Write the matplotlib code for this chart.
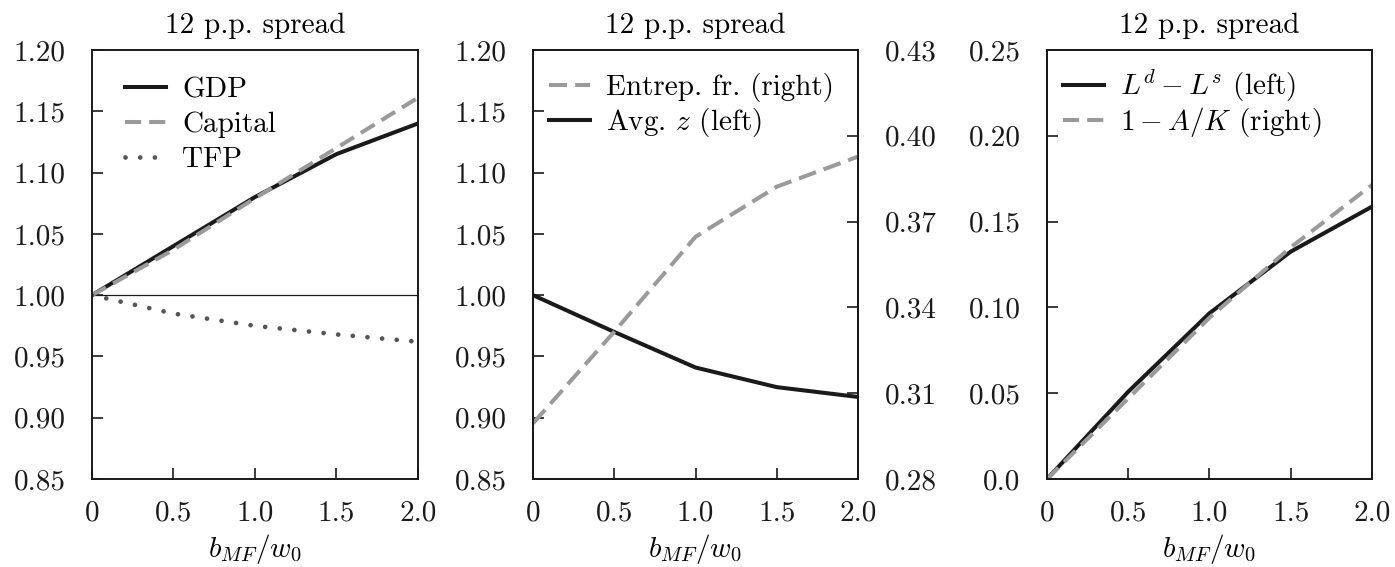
import matplotlib
matplotlib.use("Agg")
import matplotlib.pyplot as plt
from matplotlib.ticker import FixedLocator, FixedFormatter

plt.rcParams['font.family'] = 'serif'
plt.rcParams['font.serif'] = ['cmr10', 'DejaVu Serif']
plt.rcParams['mathtext.fontset'] = 'cm'
plt.rcParams['axes.formatter.use_mathtext'] = True

# ---- data ----
x = [0.0, 0.5, 1.0, 1.5, 2.0]
gdp = [1.000, 1.040, 1.080, 1.115, 1.140]
capital = [1.000, 1.037, 1.079, 1.120, 1.161]
tfp = [1.000, 0.985, 0.975, 0.968, 0.962]
avg_z = [1.000, 0.970, 0.941, 0.925, 0.917]
entrep_fr = [0.2995, 0.3315, 0.3647, 0.3822, 0.3927]
ld_ls = [0.000, 0.0509, 0.0966, 0.1325, 0.1587]
one_minus_ak = [0.000, 0.0470, 0.0940, 0.1350, 0.1713]

title = "12 p.p. spread"
xlabel = r"$b_{MF}/w_0$"
xticks = [0, 0.5, 1.0, 1.5, 2.0]
xticklabels = ["0", "0.5", "1.0", "1.5", "2.0"]
yticks_lr = [0.85, 0.90, 0.95, 1.00, 1.05, 1.10, 1.15, 1.20]
yticklabels_lr = ["0.85", "0.90", "0.95", "1.00", "1.05", "1.10", "1.15", "1.20"]
yticks_r2 = [0.28, 0.31, 0.34, 0.37, 0.40, 0.43]
yticklabels_r2 = ["0.28", "0.31", "0.34", "0.37", "0.40", "0.43"]
yticks_3 = [0.0, 0.05, 0.10, 0.15, 0.20, 0.25]
yticklabels_3 = ["0.0", "0.05", "0.10", "0.15", "0.20", "0.25"]

BLACK = "#1a1a1a"
GRAY = "#9a9a9a"
DOT = "#555555"
FS = 21
LW = 2.9

fig = plt.figure(figsize=(13.95, 5.67), dpi=100)
bottom, height = 0.155, 0.757
ax1 = fig.add_axes([0.0659, bottom, 0.2337, height])
ax2 = fig.add_axes([0.3821, bottom, 0.2330, height])
ax3 = fig.add_axes([0.7505, bottom, 0.2330, height])


def style(ax, yt, ytl, ylim):
    ax.set_xlim(0, 2.0)
    ax.set_ylim(*ylim)
    ax.xaxis.set_major_locator(FixedLocator(xticks))
    ax.xaxis.set_major_formatter(FixedFormatter(xticklabels))
    ax.yaxis.set_major_locator(FixedLocator(yt))
    ax.yaxis.set_major_formatter(FixedFormatter(ytl))
    ax.tick_params(direction='in', length=8, width=1.2, labelsize=FS,
                   top=False, right=False, colors=BLACK)
    ax.tick_params(axis='x', pad=15)
    ax.tick_params(axis='y', pad=19)
    for s in ax.spines.values():
        s.set_linewidth(1.4)
        s.set_color(BLACK)
    ax.set_title(title, fontsize=FS, pad=12)
    ax.set_xlabel(xlabel, fontsize=FS, labelpad=4)


def leg_kw(xoff, yoff, spacing=0.2):
    return dict(loc='upper left', bbox_to_anchor=(xoff, yoff), frameon=False,
                fontsize=FS, handlelength=1.4, handletextpad=0.55,
                labelspacing=spacing, borderaxespad=0.0)


# panel 1
style(ax1, yticks_lr, yticklabels_lr, (0.85, 1.20))
ax1.axhline(1.0, color=BLACK, lw=0.9)
ax1.plot(x, gdp, color=BLACK, lw=LW, label="GDP")
ax1.plot(x, capital, color=GRAY, lw=LW, dashes=(4, 2), label="Capital")
ax1.plot(x, tfp, color=DOT, lw=3.4, dashes=(0.01, 3.1), dash_capstyle='round',
         label="TFP")
ax1.legend(**leg_kw(0.066, 0.965, 0.3))

# panel 2
style(ax2, yticks_lr, yticklabels_lr, (0.85, 1.20))
ax2r = ax2.twinx()
ax2r.set_ylim(0.28, 0.43)
ax2r.yaxis.set_major_locator(FixedLocator(yticks_r2))
ax2r.yaxis.set_major_formatter(FixedFormatter(yticklabels_r2))
ax2r.tick_params(direction='in', length=8, width=1.2, labelsize=FS, pad=19,
                 colors=BLACK)
for s in ax2r.spines.values():
    s.set_linewidth(1.4)
    s.set_color(BLACK)
l_e, = ax2r.plot(x, entrep_fr, color=GRAY, lw=LW, dashes=(4.5, 2),
                 label="Entrep. fr. (right)")
l_z, = ax2.plot(x, avg_z, color=BLACK, lw=LW, label=r"Avg. $z$ (left)")
ax2r.legend(handles=[l_e, l_z], **leg_kw(0.0135, 0.974, 0.15))

# panel 3
style(ax3, yticks_3, yticklabels_3, (0.0, 0.25))
ax3r = ax3.twinx()
ax3r.set_ylim(0.0, 0.25)
ax3r.set_yticks([])
for s in ax3r.spines.values():
    s.set_linewidth(1.4)
    s.set_color(BLACK)
l_l, = ax3.plot(x, ld_ls, color=BLACK, lw=LW, label=r"$L^d - L^s$ (left)")
l_a, = ax3r.plot(x, one_minus_ak, color=GRAY, lw=LW, dashes=(4, 2),
                 label=r"$1 - A/K$ (right)")
ax3r.legend(handles=[l_l, l_a], **leg_kw(0.0135, 0.985, 0.02))

fig.savefig("out.png", dpi=100)
